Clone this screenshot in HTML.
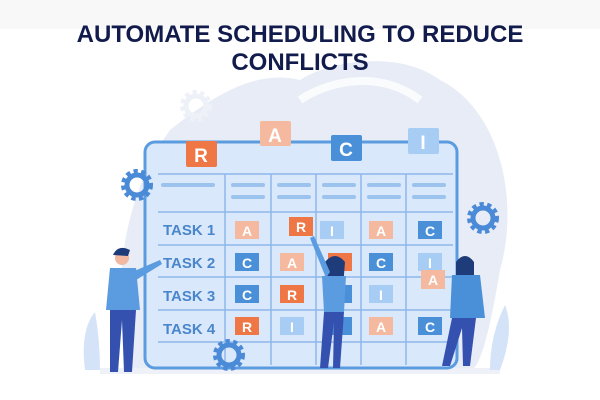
<!DOCTYPE html>
<html><head><style>
body{margin:0;width:600px;height:400px;background:#fff;overflow:hidden;font-family:"Liberation Sans",sans-serif}
.t{position:absolute;left:0;width:600px;text-align:center;color:#121c4c;font-weight:bold;font-size:24px;letter-spacing:0px}
</style></head><body>
<svg width="600" height="400" style="position:absolute;left:0;top:0">
<defs>
<g id="gear"><circle r="13" fill="none" stroke="#4a8ad6" stroke-width="6" stroke-dasharray="4 3.2"/><circle r="10" fill="none" stroke="#4a8ad6" stroke-width="5"/></g>
<g id="gearl"><circle r="13" fill="none" stroke="#eef1f8" stroke-width="6" stroke-dasharray="4 3.2"/><circle r="10" fill="none" stroke="#eef1f8" stroke-width="5"/></g>
</defs>
<rect x="0" y="0" width="600" height="29" fill="#f8f8f9"/>
<path d="M130 370 C110 300 120 200 170 130 C220 90 260 70 300 80 C330 60 400 50 440 80 C500 110 520 200 500 270 C490 330 480 370 470 370 Z" fill="#e7ecf6"/>
<path d="M300 100 C330 80 380 70 420 100" fill="none" stroke="#fff" stroke-width="8" opacity="0.8"/>
<rect x="100" y="368" width="400" height="6" fill="#eef1f7"/>
<use href="#gearl" x="196" y="106"/>
<rect x="145" y="142" width="312" height="226" rx="10" fill="#d9e8fa" stroke="#5b9be0" stroke-width="3"/>
<g stroke="#8db8ea" stroke-width="1.5" fill="none">
<line x1="158" y1="174" x2="453" y2="174"/>
<line x1="158" y1="212" x2="453" y2="212"/>
<line x1="158" y1="245" x2="453" y2="245"/>
<line x1="158" y1="277" x2="453" y2="277"/>
<line x1="158" y1="310" x2="453" y2="310"/>
<line x1="158" y1="342" x2="453" y2="342"/>
<line x1="225" y1="174" x2="225" y2="365"/>
<line x1="271" y1="174" x2="271" y2="365"/>
<line x1="316" y1="174" x2="316" y2="365"/>
<line x1="361" y1="174" x2="361" y2="365"/>
<line x1="406" y1="174" x2="406" y2="365"/>
</g>
<g stroke="#9cc3ee" stroke-width="4" stroke-linecap="round">
<line x1="163" y1="185" x2="213" y2="185"/>
<line x1="233" y1="185" x2="263" y2="185"/><line x1="233" y1="197" x2="263" y2="197"/>
<line x1="279" y1="185" x2="309" y2="185"/><line x1="279" y1="197" x2="309" y2="197"/>
<line x1="324" y1="185" x2="354" y2="185"/><line x1="324" y1="197" x2="354" y2="197"/>
<line x1="369" y1="185" x2="399" y2="185"/><line x1="369" y1="197" x2="399" y2="197"/>
<line x1="414" y1="185" x2="444" y2="185"/><line x1="414" y1="197" x2="444" y2="197"/>
</g>
<g font-family="Liberation Sans" font-weight="bold" font-size="15" fill="#4a86cc">
<text x="163" y="235">TASK 1</text><text x="163" y="268">TASK 2</text>
<text x="163" y="301">TASK 3</text><text x="163" y="334">TASK 4</text>
</g>
<g font-family="Liberation Sans" font-weight="bold" text-anchor="middle" fill="#fff">
<rect x="186" y="141" width="31" height="26" rx="2" fill="#ef7645"/><text x="201" y="162" font-size="19">R</text>
<rect x="260" y="121" width="31" height="25" rx="2" fill="#f5b9a0"/><text x="275" y="142" font-size="19">A</text>
<rect x="331" y="135" width="31" height="26" rx="2" fill="#4a90d9"/><text x="346" y="156" font-size="19">C</text>
<rect x="408" y="128" width="31" height="26" rx="2" fill="#a7cdf5"/><text x="423" y="149" font-size="19">I</text>
<g font-size="14">
<rect x="235" y="221" width="24" height="18" fill="#f5b9a0"/><text x="247" y="236">A</text>
<rect x="289" y="217" width="24" height="19" fill="#ef7645"/><text x="301" y="232">R</text>
<rect x="320" y="221" width="24" height="18" fill="#a7cdf5"/><text x="332" y="236">I</text>
<rect x="369" y="221" width="24" height="18" fill="#f5b9a0"/><text x="381" y="236">A</text>
<rect x="418" y="221" width="24" height="18" fill="#4a90d9"/><text x="430" y="236">C</text>
<rect x="235" y="253" width="24" height="18" fill="#4a90d9"/><text x="247" y="268">C</text>
<rect x="280" y="253" width="24" height="18" fill="#f5b9a0"/><text x="292" y="268">A</text>
<rect x="328" y="253" width="24" height="18" fill="#ef7645"/>
<rect x="369" y="253" width="24" height="18" fill="#4a90d9"/><text x="381" y="268">C</text>
<rect x="418" y="253" width="24" height="18" fill="#a7cdf5"/><text x="430" y="268">I</text>
<rect x="235" y="285" width="24" height="18" fill="#4a90d9"/><text x="247" y="300">C</text>
<rect x="280" y="285" width="24" height="18" fill="#ef7645"/><text x="292" y="300">R</text>
<rect x="328" y="285" width="24" height="18" fill="#4a90d9"/>
<rect x="369" y="285" width="24" height="18" fill="#a7cdf5"/><text x="381" y="300">I</text>
<rect x="235" y="317" width="24" height="18" fill="#ef7645"/><text x="247" y="332">R</text>
<rect x="280" y="317" width="24" height="18" fill="#a7cdf5"/><text x="292" y="332">I</text>
<rect x="328" y="317" width="24" height="18" fill="#4a90d9"/>
<rect x="369" y="317" width="24" height="18" fill="#f5b9a0"/><text x="381" y="332">A</text>
<rect x="418" y="317" width="24" height="18" fill="#4a90d9"/><text x="430" y="332">C</text>
</g>
</g>
<use href="#gear" x="137" y="185"/>
<use href="#gear" x="483" y="218"/>
<use href="#gear" x="229" y="355"/>
<g>
<circle cx="122" cy="258" r="7" fill="#f2b8a0"/><path d="M113 255 Q118 244 130 250 L128 256 Z" fill="#1e3b7a"/>
<path d="M110 268 L136 268 L140 310 L106 310 Z" fill="#5b9be0"/>
<path d="M132 272 L160 260 L162 264 L136 280 Z" fill="#5b9be0"/>
<path d="M110 310 L136 310 L132 372 L124 372 L122 320 L118 372 L110 372 Z" fill="#3551b0"/>
</g>
<g>
<circle cx="335" cy="265" r="7" fill="#f2b8a0"/><path d="M325 262 Q335 250 345 262 L342 300 L326 296 Z" fill="#1e3b7a"/>
<path d="M322 276 L346 276 L344 312 L324 312 Z" fill="#5b9be0"/>
<path d="M326 278 L310 238 L314 236 L330 272 Z" fill="#5b9be0"/>
<path d="M324 312 L344 312 L340 368 L333 368 L334 322 L328 368 L320 368 Z" fill="#3551b0"/>
</g>
<g>
<circle cx="465" cy="263" r="7" fill="#f2b8a0"/><path d="M456 262 Q465 250 474 262 L474 280 L456 280 Z" fill="#1e3b7a"/>
<path d="M452 275 L480 275 L485 318 L450 318 Z" fill="#4a90d9"/>
<path d="M452 318 L476 318 L470 366 L463 366 L462 328 L450 366 L442 366 Z" fill="#3551b0"/>
<rect x="421" y="270" width="24" height="19" fill="#f5b9a0"/><text x="433" y="285" font-family="Liberation Sans" font-weight="bold" font-size="14" fill="#fff" text-anchor="middle">A</text>
</g>
<path d="M85 370 Q80 330 95 312 Q100 340 100 370 Z" fill="#d4e3f7"/>
<path d="M500 370 Q515 330 505 305 Q490 335 490 370 Z" fill="#d4e3f7"/>
</svg>
<div class="t" style="top:21px">AUTOMATE SCHEDULING TO REDUCE</div>
<div class="t" style="top:49px">CONFLICTS</div>
</body></html>
